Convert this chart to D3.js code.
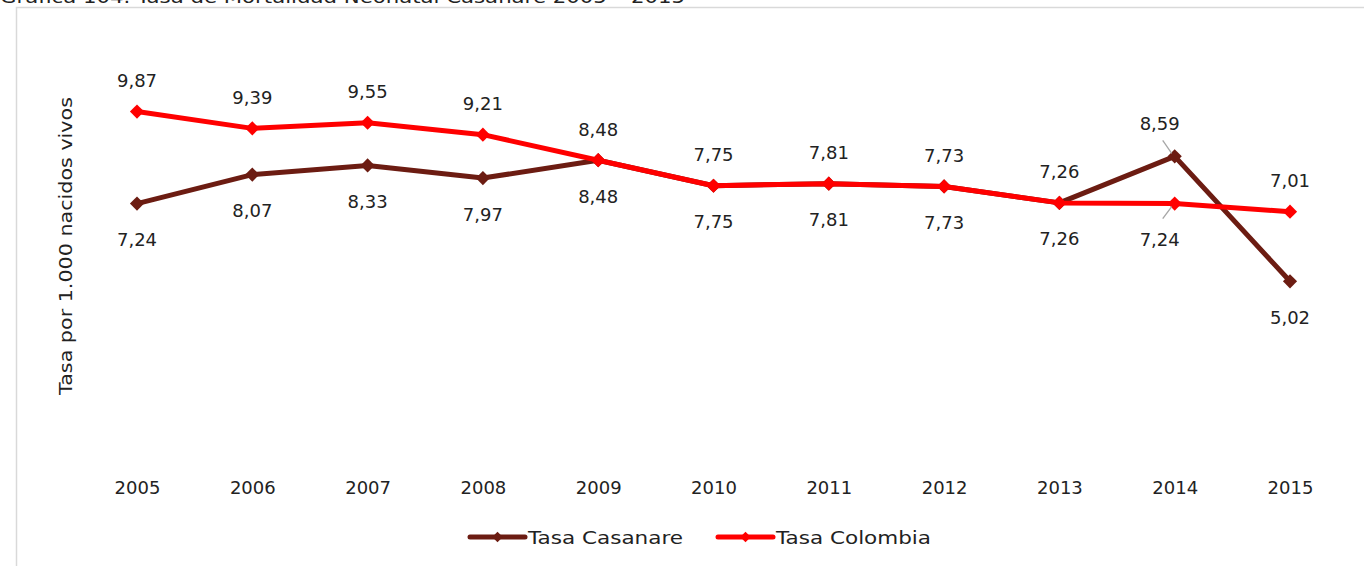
<!DOCTYPE html>
<html><head><meta charset="utf-8">
<script src="https://cdn.jsdelivr.net/npm/d3@7"></script>
<style>body{margin:0;background:#fff;} svg{display:block;font-family:"DejaVu Sans",sans-serif;}</style>
</head><body>
<svg id="c" width="1364" height="566"></svg>
<script>
const years = ["2005","2006","2007","2008","2009","2010","2011","2012","2013","2014","2015"];
const casanare = [7.24,8.07,8.33,7.97,8.48,7.75,7.81,7.73,7.26,8.59,5.02];
const colombia = [9.87,9.39,9.55,9.21,8.48,7.75,7.81,7.73,7.26,7.24,7.01];
const seriesNames = ["Tasa Casanare","Tasa Colombia"];
const colors = ["#6C1C12","#FF0000"];
// label placement: -1 above, +1 below
const casanarePos = [1,1,1,1,1,1,1,1,1,-1,1];
const colombiaPos = [-1,-1,-1,-1,-1,-1,-1,-1,-1,1,-1];

const svg = d3.select("#c");
const fmt = v => d3.format(".2f")(v).replace(".", ",");
const FS = 18;

// frame
svg.append("rect").attr("x",16.5).attr("y",7.5).attr("width",1400).attr("height",600)
  .attr("fill","none").attr("stroke","#d9d9d9").attr("stroke-width",1.5);
svg.append("text").attr("x",0).attr("y",3).attr("font-size",18).attr("fill","#222")
  .attr("textLength",685).attr("lengthAdjust","spacingAndGlyphs")
  .text("Gráfica 104. Tasa de Mortalidad Neonatal Casanare 2005 – 2015");

const x = d3.scalePoint().domain(years).range([137,1290]);
const y = d3.scaleLinear().domain([0,12]).range([457,37]);

// x axis labels
const xAxis = d3.axisBottom(x).tickSize(0).tickPadding(0);
const gx = svg.append("g").attr("transform","translate(0,481)").call(xAxis);
gx.select(".domain").remove();
gx.selectAll("text").attr("font-size",FS).attr("fill","#222").attr("font-family","'DejaVu Sans',sans-serif");

// y title
svg.append("text").attr("transform","translate(72,246) rotate(-90)").attr("text-anchor","middle")
  .attr("font-size",FS).attr("fill","#222")
  .attr("textLength",298).attr("lengthAdjust","spacingAndGlyphs")
  .text("Tasa por 1.000 nacidos vivos");

const data = [casanare, colombia];
const positions = [casanarePos, colombiaPos];
const line = d3.line().x((d,i)=>x(years[i])).y(d=>y(d));
const diamond = d3.symbol().type(d3.symbolDiamond2).size(128);

data.forEach((s,k)=>{
  svg.append("path").datum(s).attr("d",line).attr("fill","none")
    .attr("stroke",colors[k]).attr("stroke-width",5).attr("stroke-linejoin","round");
  svg.append("g").selectAll("path").data(s).join("path")
    .attr("d",diamond)
    .attr("transform",(d,i)=>`translate(${x(years[i])},${y(d)})`)
    .attr("fill",colors[k]);
});

// labels
data.forEach((s,k)=>{
  s.forEach((v,i)=>{
    const p = positions[k][i];
    let lx = x(years[i]), ly = y(v) + (p<0 ? -31 : 36);
    let leader = false;
    if (years[i]==="2014") { lx -= 15; ly = y(v) + (p<0 ? -33 : 36); leader = true; }
    if (leader) {
      const px = x(years[i]), py = y(v);
      svg.append("line").attr("x1",lx+3).attr("y1", p<0 ? ly+17 : ly-21)
        .attr("x2",px-3).attr("y2", p<0 ? py-3 : py+3)
        .attr("stroke","#a6a6a6").attr("stroke-width",1.3);
    }
    svg.append("text").attr("x",lx).attr("y",ly).attr("text-anchor","middle")
      .attr("dominant-baseline","central").attr("font-size",FS).attr("fill","#222")
      .text(fmt(v));
  });
});

// legend
const legX = [470,718];
const legLen = [155,155];
seriesNames.forEach((n,k)=>{
  const g = svg.append("g").attr("transform",`translate(${legX[k]},537)`);
  g.append("line").attr("x1",0).attr("x2",55).attr("y1",0).attr("y2",0)
    .attr("stroke",colors[k]).attr("stroke-width",5).attr("stroke-linecap","round");
  g.append("path").attr("d",d3.symbol().type(d3.symbolDiamond2).size(70)).attr("transform","translate(27.5,0)").attr("fill",colors[k]);
  g.append("text").attr("x",58).attr("y",0).attr("dominant-baseline","central")
    .attr("font-size",FS).attr("fill","#222")
    .attr("textLength",legLen[k]).attr("lengthAdjust","spacingAndGlyphs").text(n);
});
</script>
</body></html>
